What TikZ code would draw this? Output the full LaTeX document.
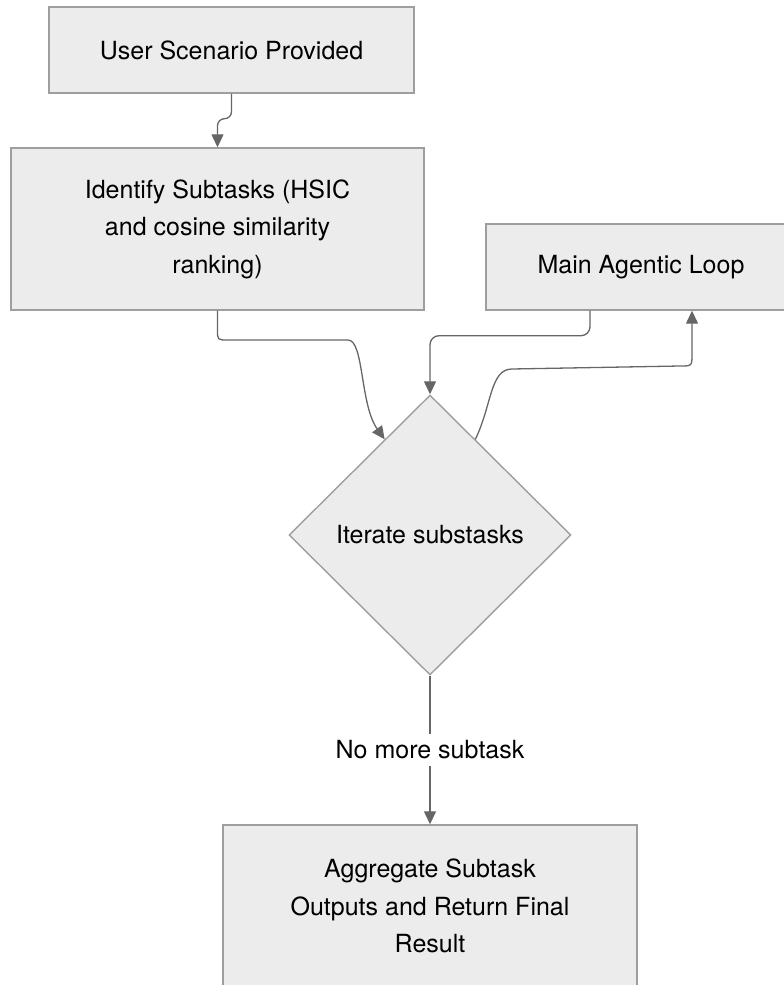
\documentclass[tikz,border=0pt]{standalone}
\usepackage{fontspec}
\setmainfont{TeX Gyre Heros}
\usetikzlibrary{shapes.geometric,arrows.meta,calc}
\definecolor{boxfill}{HTML}{ECECEC}
\definecolor{boxline}{HTML}{9E9E9E}
\definecolor{arrowc}{HTML}{666666}
\begin{document}
\begin{tikzpicture}[x=1pt,y=-1pt,
  every node/.style={font=\fontsize{25}{37.5}\selectfont, text=black},
  procbox/.style={rectangle, draw=boxline, fill=boxfill, line width=1.4pt, align=center, inner sep=0pt},
  decision/.style={diamond, draw=boxline, fill=boxfill, line width=1.4pt, align=center, inner sep=0pt, aspect=1},
  conn/.style={draw=arrowc, line width=1.3pt},
  arr/.style={conn, -{Triangle[length=13pt,width=12pt]}}
]
\useasboundingbox (0,0) rectangle (784,985);

\node[procbox, minimum width=365pt, minimum height=86pt] (b1) at (231.5,50) {User Scenario Provided};
\node[procbox, minimum width=413pt, minimum height=162pt] (b2) at (217.5,229) {Identify Subtasks (HSIC\\and cosine similarity\\ranking)};
\node[procbox, minimum width=310pt, minimum height=86pt] (b3) at (641,267) {Main Agentic Loop};
\node[decision, minimum width=282pt, minimum height=280pt] (d) at (430,535) {Iterate substasks};
\node[procbox, minimum width=414pt, minimum height=162pt] (b4) at (430,906) {Aggregate Subtask\\Outputs and Return Final\\Result};

\coordinate (dinL) at ($(d.north)!0.32!(d.west)$);
\coordinate (doutR) at ($(d.north)!0.32!(d.east)$);

\draw[arr, rounded corners=7pt] (b1.south) -- ++(0,25) -| (b2.north);
\draw[arr] (b2.south) -- (217.5,330) .. controls (217.5,340) .. (228,340) -- (348,340) .. controls (364,340) and (360,405) .. (dinL);
\draw[arr, rounded corners=9pt] ([xshift=-51pt]b3.south) -- ++(0,25) -| (d.north);
\draw[arr] (doutR) .. controls (492,405) and (490,369) .. (512,369) -- (680,366) .. controls (692,366) .. (692,354) -- ([xshift=51pt]b3.south);
\draw[arr] (d.south) -- node[fill=white, inner sep=7pt] (lbl) {No more subtask} (b4.north);
\end{tikzpicture}
\end{document}
